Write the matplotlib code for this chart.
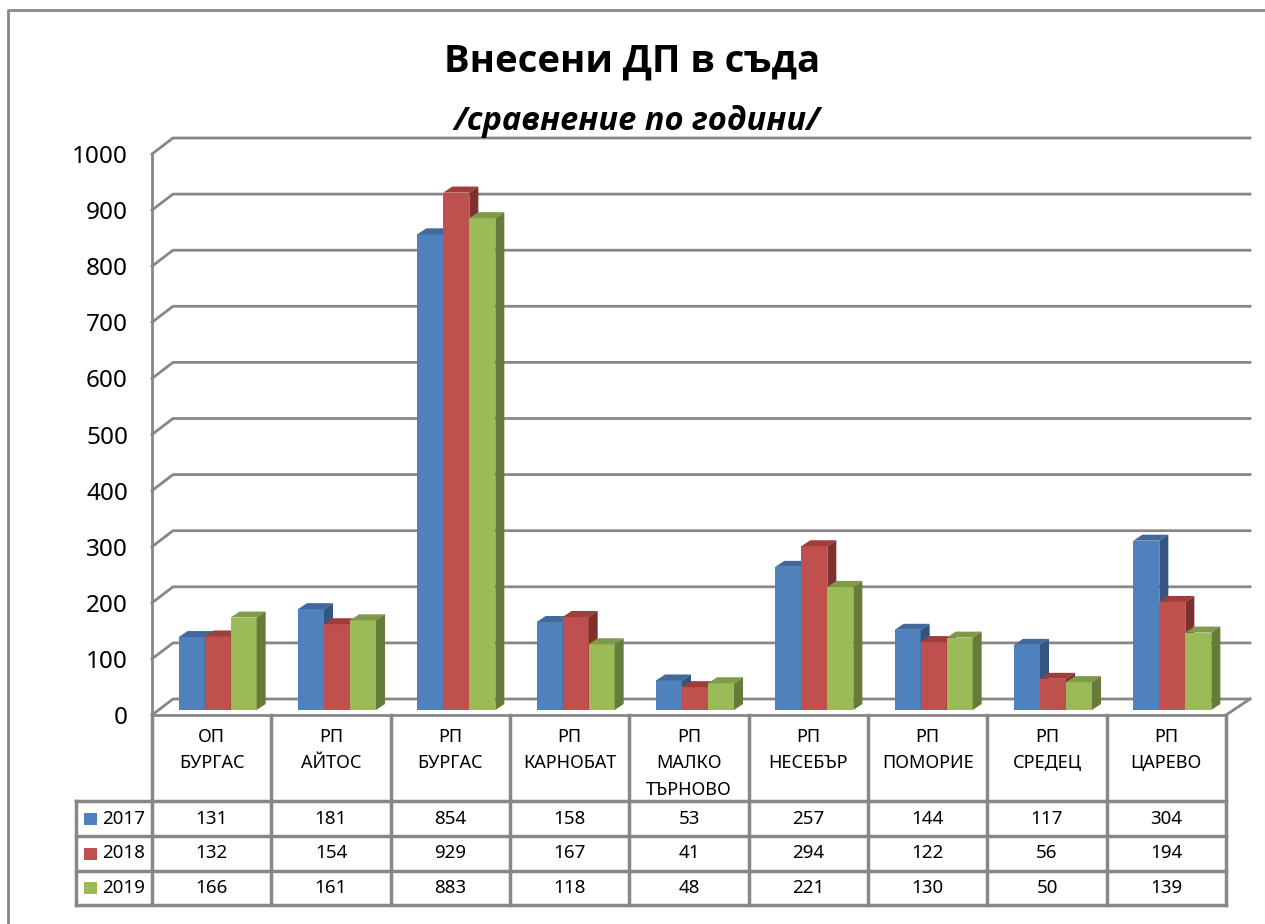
import matplotlib
matplotlib.use('Agg')
import matplotlib.pyplot as plt
from matplotlib.patches import Polygon, Rectangle
from matplotlib.lines import Line2D
from matplotlib.transforms import blended_transform_factory
import numpy as np

plt.rcParams['font.family'] = ['Noto Sans', 'DejaVu Sans']

# data
categories = ['ОП\nБУРГАС', 'РП\nАЙТОС', 'РП\nБУРГАС', 'РП\nКАРНОБАТ', 'РП\nМАЛКО\nТЪРНОВО',
              'РП\nНЕСЕБЪР', 'РП\nПОМОРИЕ', 'РП\nСРЕДЕЦ', 'РП\nЦАРЕВО']
years = ['2017', '2018', '2019']
v2017 = [131, 181, 854, 158, 53, 257, 144, 117, 304]
v2018 = [132, 154, 929, 167, 41, 294, 122, 56, 194]
v2019 = [166, 161, 883, 118, 48, 221, 130, 50, 139]
yticks = list(range(0, 1001, 100))

series = [v2017, v2018, v2019]
front_col = ['#4F81BD', '#C0504D', '#9BBB59']
top_col = ['#41699B', '#9E3E3C', '#7F9A48']
side_col = ['#34557F', '#7F2F2E', '#667B39']
grid_col = '#878787'

# layout in pixels
W, H = 1265, 924
X0, X1 = 152, 1226      # front plane left/right
Y0, Y1 = 715, 154       # front plane y of 0 and 1000
DX, DY = 21, 16         # wall depth
n = len(categories)

fig = plt.figure(figsize=(W / 100, H / 100), dpi=100)

ax = fig.add_axes([X0 / W, 1 - Y0 / H, (X1 - X0) / W, (Y0 - Y1) / H])
ax.set_xlim(-0.5, n - 0.5)
ax.set_ylim(0, 1000)
ax.axis('off')
sx = n / (X1 - X0)
sy = 1000 / (Y0 - Y1)

lw = 2.0
# walls and gridlines
xb0 = -0.5 + DX * sx
xb1 = -0.5 + (1250 - X0) * sx
for v in yticks:
    ax.add_line(Line2D([-0.5, xb0, xb1], [v, v + DY * sy, v + DY * sy],
                       color=grid_col, lw=lw, clip_on=False, zorder=1))
    ax.text(-0.5 - 24 * sx, v - 3 * sy, str(v), ha='right', va='center', fontsize=17.5,
            color='black', clip_on=False)
ax.add_line(Line2D([-0.5, -0.5], [0, 1000], color=grid_col, lw=lw, clip_on=False))
ax.add_line(Line2D([n - 0.5, n - 0.5 + DX * sx + 3 * sx], [0, DY * sy],
                   color=grid_col, lw=lw, clip_on=False))

# data table
tr = blended_transform_factory(ax.transData, fig.transFigure)
def fy(p):
    return 1 - p / H
rows_px = [Y0, 801, 836, 871, 905]
xl = -0.5 - (X0 - 76) * sx
for b in np.arange(n + 1) - 0.5:
    ax.add_line(Line2D([b, b], [fy(Y0), fy(905)], color=grid_col, lw=lw + 0.5,
                       transform=tr, clip_on=False))
ax.add_line(Line2D([-0.5, n - 0.5], [fy(Y0), fy(Y0)], color=grid_col, lw=lw,
                   transform=tr, clip_on=False))
for r in rows_px[1:]:
    ax.add_line(Line2D([xl, n - 0.5], [fy(r), fy(r)], color=grid_col, lw=lw + 0.5,
                       transform=tr, clip_on=False))
ax.add_line(Line2D([xl, xl], [fy(801), fy(905)], color=grid_col, lw=lw + 0.5,
                   transform=tr, clip_on=False))

for i, c in enumerate(categories):
    ax.text(i, fy(728), c, ha='center', va='top', fontsize=13, linespacing=1.6,
            transform=tr, clip_on=False)
for k, vals in enumerate(series):
    yc = (rows_px[k + 1] + rows_px[k + 2]) / 2
    for i, v in enumerate(vals):
        ax.text(i, fy(yc), str(v), ha='center', va='center', fontsize=13.5,
                transform=tr, clip_on=False)
    ax.add_patch(Rectangle((xl + 8 * sx, fy(yc + 6)), 13 * sx, 12 / H,
                           facecolor=front_col[k], edgecolor='none',
                           transform=tr, clip_on=False))
    ax.text(xl + 26 * sx, fy(yc), years[k], ha='left', va='center', fontsize=13.5,
            transform=tr, clip_on=False)

# bars (middle depth plane)
BY0, BY1 = 710, 153
bx = fig.add_axes([(X0 + 6) / W, 1 - BY0 / H, (X1 - X0) / W, (BY0 - BY1) / H])
bx.set_xlim(-0.5, n - 0.5)
bx.set_ylim(0, 1000)
bx.axis('off')
bsy = 1000 / (BY0 - BY1)
bw = 26 * sx
bdx, bdy = 9 * sx, 6 * bsy
x = np.arange(n)
for k, vals in enumerate(series):
    xs = x + (k - 1) * bw
    bx.bar(xs, vals, width=bw, color=front_col[k], edgecolor='none', zorder=3)
    for xc, h in zip(xs, vals):
        a, b = xc - bw / 2, xc + bw / 2
        bx.add_patch(Polygon([(a, h), (b, h), (b + bdx, h + bdy), (a + bdx, h + bdy)],
                             closed=True, facecolor=top_col[k], edgecolor='none', zorder=3))
        bx.add_patch(Polygon([(b, 0), (b, h), (b + bdx, h + bdy), (b + bdx, bdy)],
                             closed=True, facecolor=side_col[k], edgecolor='none', zorder=3))

# titles
tfam = ['Open Sans', 'DejaVu Sans']
fig.text(632 / W, fy(62), 'Внесени ДП в съда', ha='center', va='center',
         fontsize=27.5, fontweight='bold', family=tfam)
fig.text(637 / W, fy(122), '/сравнение по години/', ha='center', va='center',
         fontsize=23.5, fontweight='bold', fontstyle='italic', family=tfam)

# outer border
fig.add_artist(Line2D([8 / W, 8 / W, 1.0], [0.0, fy(10), fy(10)], color=grid_col,
                      lw=2, transform=fig.transFigure))

fig.savefig('out.png', dpi=100)
